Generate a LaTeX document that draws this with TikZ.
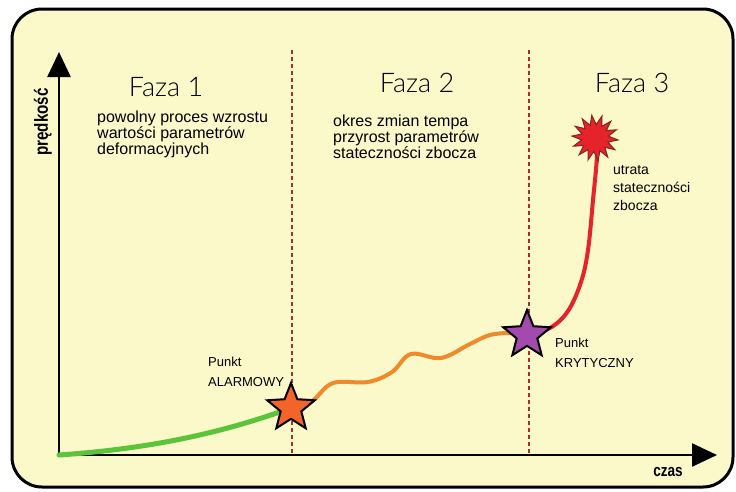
\documentclass[tikz,border=0pt]{standalone}
\usepackage{fontspec}
\setmainfont{Liberation Sans}
\newfontfamily\waskifont{Liberation Sans}[FakeStretch=0.8]
\newfontfamily\lekkifont{Lato Light}
\usetikzlibrary{arrows.meta,shapes.geometric}
\definecolor{tlo}{HTML}{FBF8C9}
\definecolor{zielony}{HTML}{5CC43A}
\definecolor{pomarancz}{HTML}{F0892A}
\definecolor{czerwony}{HTML}{E5232B}
\definecolor{fiolet}{HTML}{A24AAE}
\definecolor{gwiazda}{HTML}{F2642A}
\definecolor{kreska}{HTML}{A3302E}
\tikzset{
  os/.style={line width=2.5pt,-{Triangle[length=25pt,width=23pt]}},
  granica/.style={kreska,line width=1.5pt,dash pattern=on 4pt off 3pt},
  faza/.style={font=\lekkifont\fontsize{27}{27}\selectfont},
  opis/.style={font=\fontsize{16}{16}\selectfont,align=left,anchor=west,inner sep=0pt},
  punkt/.style={font=\fontsize{13}{20}\selectfont,align=left,anchor=west,inner sep=0pt},
  gwiazdka/.style={star,star points=5,star point ratio=2.3,minimum size=50pt,draw=black,line width=2pt,inner sep=0pt},
  krzywa/.style={line width=4pt,line cap=round,smooth,tension=0.6}
}
\begin{document}
\begin{tikzpicture}[x=1pt,y=-1pt]
    \def\xo{59} \def\yo{455} % poczatek ukladu
    \def\xa{292} \def\xb{529} % granice faz
    \def\ygora{50}
    \useasboundingbox (0,0) rectangle (736,491);
    \draw[fill=tlo,line width=3pt,rounded corners=30pt] (12,9) rectangle (733,487);
    \coordinate (O) at (\xo,\yo);
    \coordinate (alarm) at (291,408);
    \coordinate (kryt) at (527,335);
    \coordinate (utrata) at (595,138);
    \draw[granica] (\xa,\ygora)--(\xa,\yo);
    \draw[granica] (\xb,\ygora)--(\xb,\yo);
    \draw[os] (O)--(\xo,52);
    \draw[os] (O)--(717,\yo);
    \node[rotate=90,font=\waskifont\bfseries\fontsize{19}{19}\selectfont] (predkosc) at (43,122) {prędkość};
    \node[font=\waskifont\bfseries\fontsize{17}{17}\selectfont] (czas) at (668,472) {czas};
    % krzywe
    \draw[zielony,line width=5pt,line cap=round] (O) .. controls (160,448) and (230,430) .. (alarm);
    \draw[krzywa,pomarancz] plot coordinates {(alarm) (312,401) (333,383) (368,382) (392,372) (411,354) (441,358) (470,344) (490,335) (512,333) (kryt)};
    \draw[krzywa,czerwony] plot coordinates {(kryt) (550,328) (568,311) (581,282) (588,250) (593,200) (597,155) (utrata)};
    \node[gwiazdka,fill=gwiazda] (alarmowy) at (alarm) {};
    \node[gwiazdka,fill=fiolet] (krytyczny) at (kryt) {};
    \node[star,star points=14,star point ratio=1.7,minimum size=46pt,rotate=8,fill=czerwony,draw=kreska!80!black,line width=1pt] (wybuch) at (utrata) {};
    % opisy
    \node[faza] (faza1) at (166,87) {Faza 1};
    \node[faza] (faza2) at (417,83) {Faza 2};
    \node[faza] (faza3) at (632,83) {Faza 3};
    \node[opis] (opis1) at (97,134) {powolny proces wzrostu\\wartości parametrów\\deformacyjnych};
    \node[opis] (opis2) at (333,137) {okres zmian tempa\\przyrost parametrów\\stateczności zbocza};
    \node[opis,font=\fontsize{14}{18}\selectfont] (opis3) at (613,188) {utrata\\stateczności\\zbocza};
    \node[punkt] (palarm) at (208,372) {Punkt\\ALARMOWY};
    \node[punkt] (pkryt) at (555,353) {Punkt\\KRYTYCZNY};
\end{tikzpicture}
\end{document}
